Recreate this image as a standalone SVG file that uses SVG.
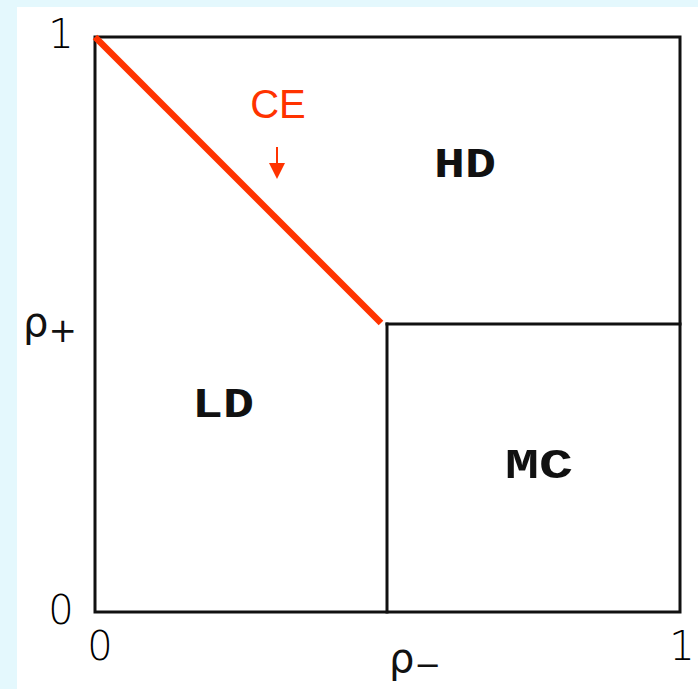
<svg xmlns="http://www.w3.org/2000/svg" width="698" height="689" viewBox="0 0 698 689">
<defs>
<style>
.frame{fill:none;stroke:#111;stroke-width:3;stroke-linecap:square}
.tick{font-family:"DejaVu Sans","Liberation Sans",sans-serif;font-weight:200;font-size:40px;fill:#000;text-anchor:middle}
.rho{font-family:"DejaVu Sans","Liberation Sans",sans-serif;font-size:40px;fill:#111}
.region{font-family:"Liberation Mono","Courier New",monospace;font-weight:bold;font-size:42px;fill:#111;text-anchor:middle}
.ce{font-family:"Liberation Sans",Arial,sans-serif;font-size:40px;fill:#ff3300;text-anchor:middle}
</style>
</defs>
<rect x="0" y="0" width="698" height="689" fill="#e4f8fd"/>
<rect x="17" y="7" width="681" height="682" fill="#ffffff"/>
<g id="axes">
<text class="tick" x="61" y="48">1</text>
<text class="tick" x="61" y="624">0</text>
<text class="tick" x="100" y="660">0</text>
<text class="tick" x="682" y="660">1</text>
<text class="rho" x="23" y="336">ρ<tspan font-size="34" dy="6">+</tspan></text>
<text class="rho" x="389" y="672">ρ<tspan font-size="32" dy="4">−</tspan></text>
</g>
<g id="frame">
<rect class="frame" x="95" y="37" width="585" height="575"/>
</g>
<g id="connectors">
<line class="frame" x1="387" y1="324" x2="680" y2="324"/>
<line class="frame" x1="387" y1="324" x2="387" y2="612"/>
<line x1="95" y1="37" x2="381" y2="323" stroke="#ff3300" stroke-width="6.5"/>
<line x1="277" y1="147" x2="277" y2="165" stroke="#ff3300" stroke-width="2"/>
<polygon points="269,163 285,163 277,179" fill="#ff3300"/>
</g>
<g id="HD"><text class="region" x="465" y="177" textLength="62" lengthAdjust="spacingAndGlyphs">HD</text></g>
<g id="LD"><text class="region" x="223" y="417" textLength="62" lengthAdjust="spacingAndGlyphs">LD</text></g>
<g id="MC"><text class="region" x="539" y="478" textLength="68" lengthAdjust="spacingAndGlyphs">MC</text></g>
<g id="CE"><text class="ce" x="278" y="118">CE</text></g>
</svg>
